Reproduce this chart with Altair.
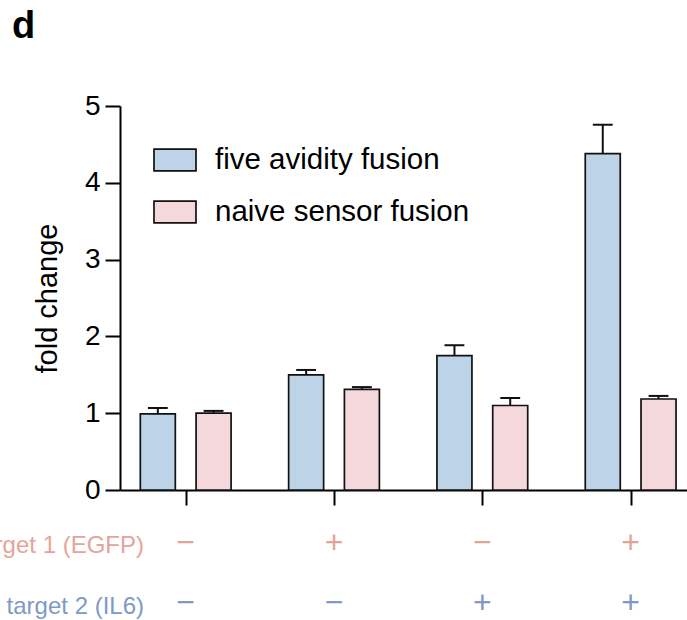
import altair as alt
import pandas as pd

# ---- data ----
groups = [0, 1, 2, 3]
series = ["five avidity fusion", "naive sensor fusion"]
five_mean = [0.99, 1.50, 1.75, 4.38]
five_err = [0.078, 0.063, 0.135, 0.376]
naive_mean = [1.00, 1.31, 1.10, 1.185]
naive_err = [0.030, 0.030, 0.098, 0.040]
target1 = ["−", "+", "−", "+"]
target2 = ["−", "−", "+", "+"]
row_names = ["target 1 (EGFP)", "target 2 (IL6)"]
y_ticks = [0, 1, 2, 3, 4, 5]
bar_colors = ["#BDD3E7", "#F4D8DB"]
row_colors = ["#E6A39B", "#8099C6"]

FONT = "Liberation Sans"

rows = []
for g, m, e in zip(groups, five_mean, five_err):
    rows.append({"group": g, "series": series[0], "mean": m, "err": e})
for g, m, e in zip(groups, naive_mean, naive_err):
    rows.append({"group": g, "series": series[1], "mean": m, "err": e})
df = pd.DataFrame(rows)

lab = pd.DataFrame({"group": groups, "t1": target1, "t2": target2})

xscale = alt.Scale(domain=[-0.443, 3.38], nice=False, zero=False, padding=0)
yscale = alt.Scale(domain=[0, 5], nice=False, padding=0)

off = f"(datum.series == '{series[0]}' ? -0.188 : 0.188)"
base = alt.Chart(df).transform_calculate(
    xc=f"datum.group + {off}",
    top="datum.mean + datum.err",
    cl=f"datum.group + {off} - 0.067",
    cr=f"datum.group + {off} + 0.067",
)

x_axis = alt.Axis(values=groups, labels=False, title=None, grid=False,
                  tickSize=15, tickWidth=2, tickColor="black",
                  domainColor="black", domainWidth=2)
y_axis = alt.Axis(values=y_ticks, format="d", title="fold change", grid=False,
                  tickSize=15, tickWidth=2, tickColor="black",
                  domainColor="black", domainWidth=2,
                  labelFontSize=28, labelFont=FONT, labelColor="black",
                  labelPadding=5, titleFontSize=29, titleFont=FONT,
                  titleFontWeight="normal", titleColor="black", titlePadding=22)

bars = base.mark_bar(size=35, stroke="#111111", strokeWidth=1.7).encode(
    x=alt.X("xc:Q", scale=xscale, axis=x_axis),
    y=alt.Y("mean:Q", scale=yscale, axis=y_axis),
    color=alt.Color("series:N", scale=alt.Scale(domain=series, range=bar_colors),
                    legend=alt.Legend(orient="none", legendX=33, legendY=32, title=None,
                                      symbolType="M-1,-0.52H1V0.52H-1Z", symbolSize=1764,
                                      symbolStrokeColor="#111111", symbolStrokeWidth=1.7,
                                      symbolOpacity=1,
                                      labelFontSize=29.5, labelFont=FONT, labelColor="black",
                                      labelOffset=18, rowPadding=15, padding=0,
                                      labelLimit=400)),
)

err = base.mark_rule(color="#111111", strokeWidth=2).encode(
    x="xc:Q", y="mean:Q", y2="top:Q")
caps = base.mark_rule(color="#111111", strokeWidth=2).encode(
    x="cl:Q", x2="cr:Q", y="top:Q")

t1 = alt.Chart(lab).mark_text(fontSize=32, font=FONT, color=row_colors[0],
                              baseline="alphabetic").encode(
    x="group:Q", y=alt.value(447), text="t1:N")
t2 = alt.Chart(lab).mark_text(fontSize=32, font=FONT, color=row_colors[1],
                              baseline="alphabetic").encode(
    x="group:Q", y=alt.value(507), text="t2:N")

rn = pd.DataFrame({"name": row_names, "row": [0, 1]})
n1 = alt.Chart(rn).transform_filter("datum.row == 0").mark_text(
    fontSize=24, font=FONT, color=row_colors[0], align="right",
    baseline="alphabetic").encode(x=alt.value(24), y=alt.value(447), text="name:N")
n2 = alt.Chart(rn).transform_filter("datum.row == 1").mark_text(
    fontSize=24, font=FONT, color=row_colors[1], align="right",
    baseline="alphabetic").encode(x=alt.value(24), y=alt.value(508), text="name:N")

chart = alt.layer(bars, err, caps, t1, t2, n1, n2).properties(
    width=567, height=384,
    title=alt.TitleParams("d", anchor="start", frame="group", fontSize=38,
                          fontWeight="bold", font=FONT, color="black",
                          dx=-108, offset=16, baseline="alphabetic"),
    autosize=alt.AutoSizeParams(type="none"),
    padding={"left": 120, "top": 106, "right": 0, "bottom": 130},
).configure(background="white").configure_view(stroke=None, strokeWidth=0)

chart.save("out.html", embed_options={"renderer": "svg", "actions": False})
